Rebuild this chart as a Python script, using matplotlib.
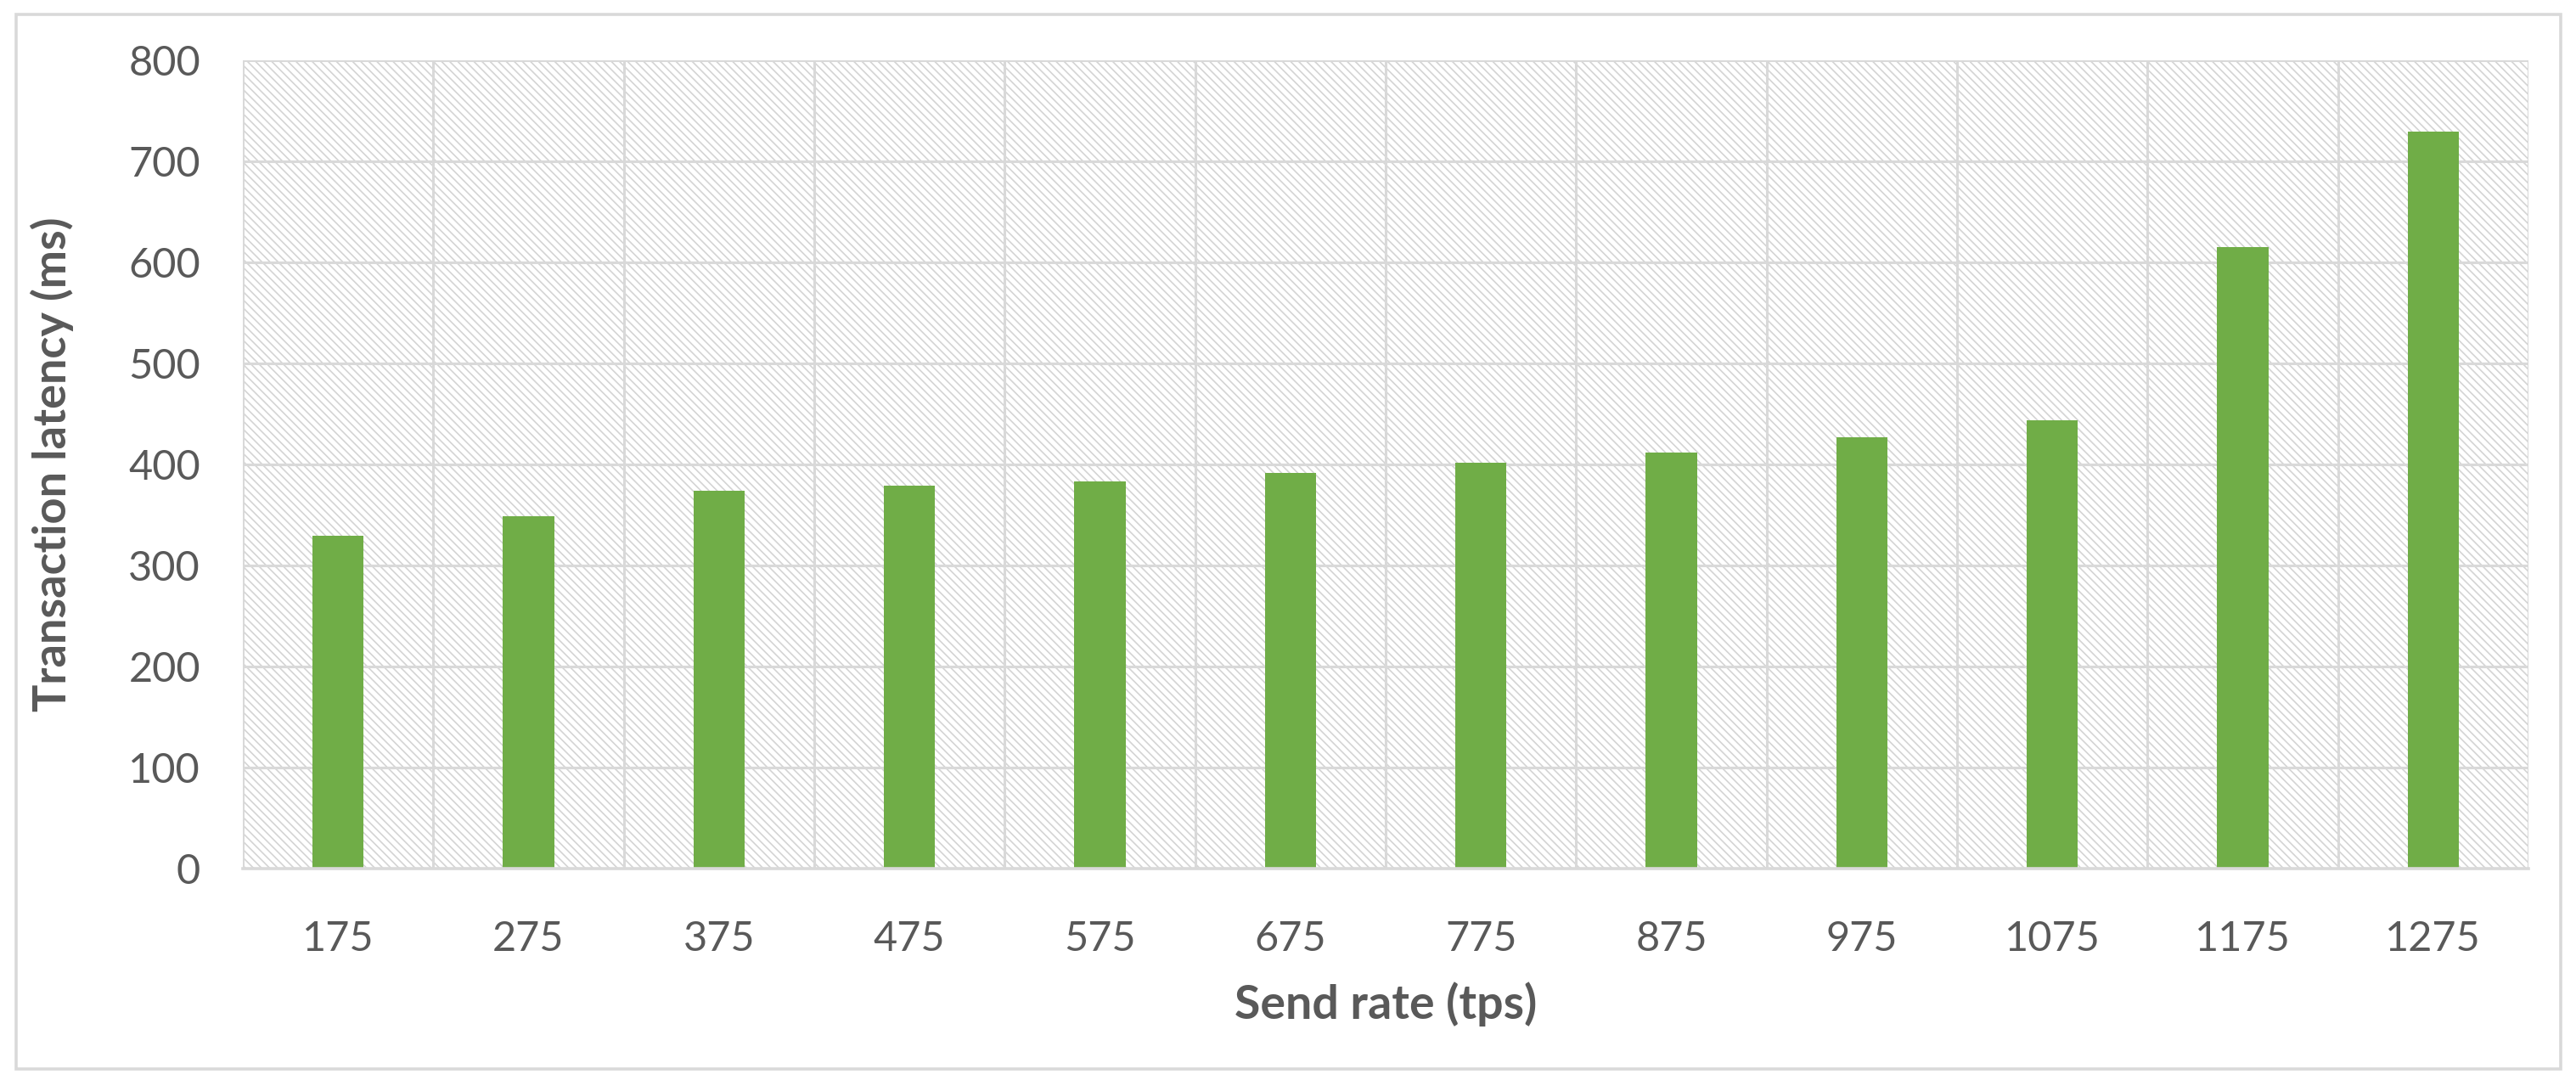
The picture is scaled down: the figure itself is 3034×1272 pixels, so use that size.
import numpy as np
import matplotlib
matplotlib.use("Agg")
import matplotlib.pyplot as plt
import matplotlib.patches as patches

# data
send_rate = ["175", "275", "375", "475", "575", "675", "775", "875", "975", "1075", "1175", "1275"]
latency = [329, 349, 374, 379, 383, 392, 402, 412, 427, 444, 615, 729]

grid_col = "#d9d9d9"
text_col = "#595959"
bar_col = "#70ad47"

plt.rcParams["font.family"] = ["Lato", "DejaVu Sans"]
plt.rcParams["hatch.color"] = "#d4d4d4"
plt.rcParams["hatch.linewidth"] = 0.6

W, H, dpi = 3034, 1272, 200
fig = plt.figure(figsize=(W / dpi, H / dpi), dpi=dpi)
ax = fig.add_axes([286 / W, 1 - 1023 / H, (2978 - 286) / W, (1023 - 71) / H])

# hatched plot area like excel's light downward diagonal
ax.patch.set_facecolor("white")
ax.patch.set_hatch("\\\\\\\\\\\\\\")
ax.patch.set_edgecolor("#d4d4d4")

x = np.arange(len(send_rate))
ax.bar(x, latency, width=0.27, color=bar_col, zorder=3)

ax.set_xlim(-0.5, len(send_rate) - 0.5)
ax.set_ylim(0, 800)
ax.set_yticks(np.arange(0, 801, 100))
ax.set_xticks(x)
ax.set_xticklabels(send_rate)

# horizontal gridlines at ticks, vertical lines between categories
for yv in np.arange(100, 801, 100):
    ax.axhline(yv, color=grid_col, lw=1.1, zorder=1)
for xv in np.arange(-0.5, len(send_rate), 1.0):
    ax.axvline(xv, color=grid_col, lw=1.1, zorder=1)

for s in ["top", "right", "left"]:
    ax.spines[s].set_visible(False)
ax.spines["bottom"].set_color(grid_col)
ax.spines["bottom"].set_linewidth(1.3)
ax.spines["bottom"].set_zorder(4)

ax.tick_params(axis="both", length=0, labelsize=17.5, colors=text_col)
ax.tick_params(axis="x", pad=22)
ax.tick_params(axis="y", pad=18)

ax.set_xlabel("Send rate (tps)", fontsize=20, fontweight="bold", color=text_col, labelpad=10)
ax.set_ylabel("Transaction latency (ms)", fontsize=19.5, fontweight="bold", color=text_col, labelpad=23)

# outer chart border
fig.patches.append(patches.Rectangle((19 / W, 1 - 1259 / H), (3016 - 19) / W, (1259 - 17) / H,
                                     transform=fig.transFigure, fill=False,
                                     edgecolor=grid_col, lw=1.3))

fig.savefig("out.png", dpi=dpi, facecolor="white")
